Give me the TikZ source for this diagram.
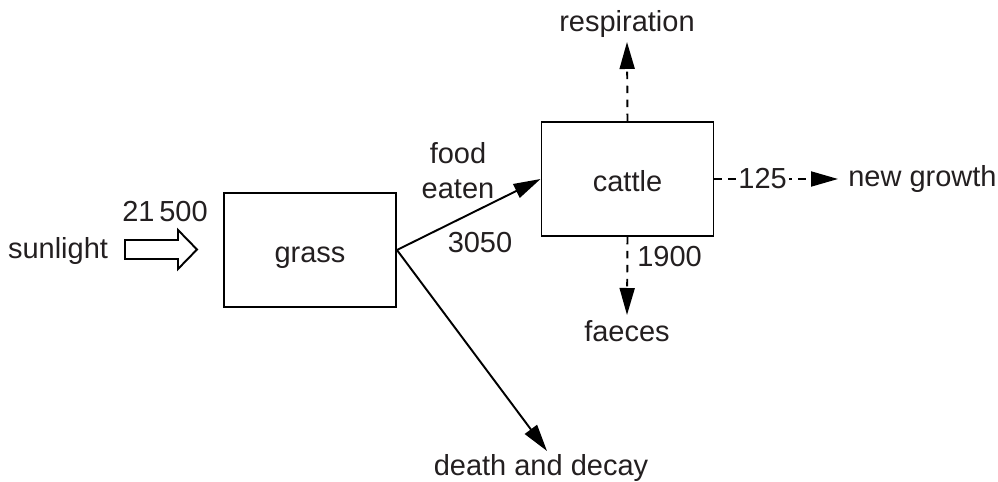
\documentclass[tikz,border=0pt]{standalone}
\usepackage{fontspec}
\setmainfont{Liberation Sans}
\usetikzlibrary{arrows.meta}
\definecolor{ink}{HTML}{231F20}
\begin{document}
\begin{tikzpicture}[x=0.02cm, y=-0.02cm, font=\fontsize{16.5}{20}\selectfont, line join=miter,
		>={Triangle[length=0.54cm,width=0.3cm]},
		box/.style={draw, line width=1.1pt, minimum width=3.44cm, minimum height=2.28cm, text height=0.6cm, text depth=0.1cm, text=ink},
		lbl/.style={inner sep=0pt, text=ink},
		flow/.style={->, line width=1.1pt},
		loss/.style={flow, dash pattern=on 0.15cm off 0.13cm}]
			\useasboundingbox (0,0) rectangle (998,482);
			\node[box] (grass) at (310,250) {grass};
			\node[box] (cattle) at (627.5,179) {cattle};
			\node[lbl, anchor=base] (sunlight) at (58,259) {sunlight};
			\node[lbl, anchor=base] (sunval) at (165,222) {21\,500};
			\draw[line width=1.1pt] (125,240)--(178,240)--(178,230)--(197,249.5)--(178,269)--(178,259)--(125,259)--cycle;
			\node[lbl, align=center] (food) at (458,171) {food\\eaten};
			\node[lbl, anchor=base] (foodval) at (480,253) {3050};
			\node[lbl, anchor=base] (resp) at (627,32) {respiration};
			\node[lbl, anchor=base] (faeces) at (627,342) {faeces};
			\node[lbl, anchor=base west] (faecesval) at (637,267) {1900};
			\node[lbl, anchor=base west] (growth) at (848,187) {new growth};
			\node[lbl, anchor=base] (decay) at (541,476) {death and decay};
			\coordinate (resp-end) at (627,42);
			\coordinate (faeces-end) at (627,315);
			\coordinate (growth-end) at (838,179);
			\coordinate (decay-end) at (547,451);
			\draw[flow] (grass.east)--(cattle.west);
			\draw[flow] (grass.east)--(decay-end);
			\draw[loss] (cattle.north)--(resp-end);
			\draw[loss] (cattle.south)--(faeces-end);
			\draw[loss] (cattle.east)--(growth-end) node[pos=0.39, lbl, fill=white, inner sep=1pt] (growthval) {125};
		\end{tikzpicture}
\end{document}
